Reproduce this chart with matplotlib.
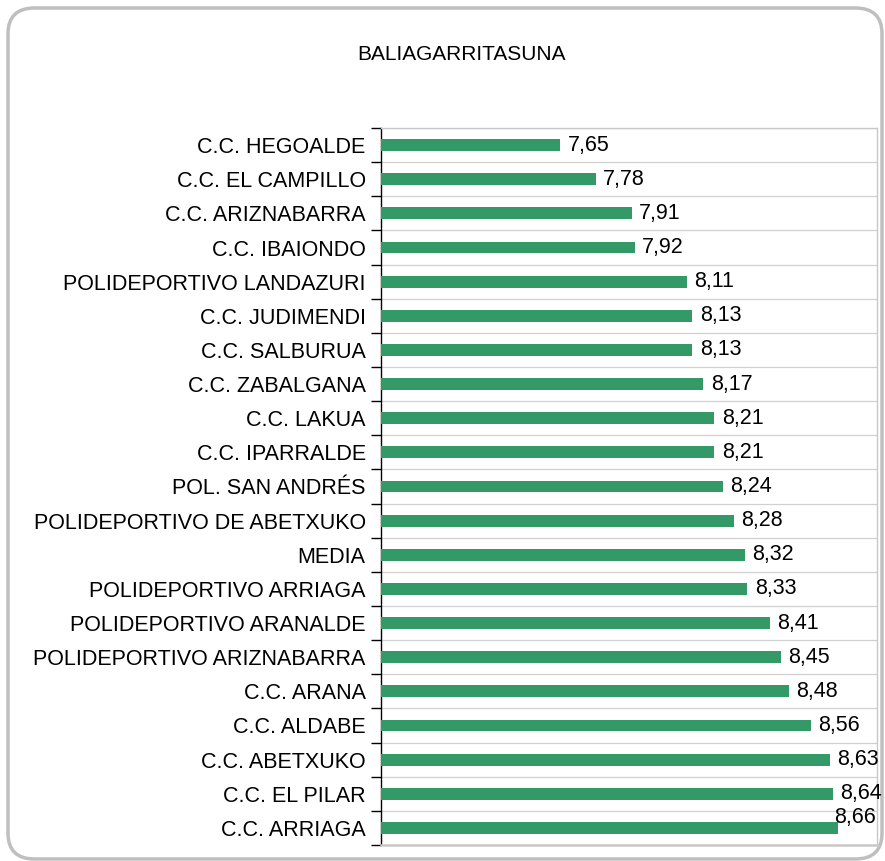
import matplotlib
matplotlib.use("Agg")
import matplotlib.pyplot as plt
from matplotlib.patches import FancyBboxPatch

plt.rcParams['font.family'] = ['Liberation Sans', 'DejaVu Sans']

# Datos (de arriba hacia abajo)
centros = ["C.C. HEGOALDE", "C.C. EL CAMPILLO", "C.C. ARIZNABARRA", "C.C. IBAIONDO",
           "POLIDEPORTIVO LANDAZURI", "C.C. JUDIMENDI", "C.C. SALBURUA", "C.C. ZABALGANA",
           "C.C. LAKUA", "C.C. IPARRALDE", "POL. SAN ANDRÉS", "POLIDEPORTIVO DE ABETXUKO",
           "MEDIA", "POLIDEPORTIVO ARRIAGA", "POLIDEPORTIVO ARANALDE",
           "POLIDEPORTIVO ARIZNABARRA", "C.C. ARANA", "C.C. ALDABE", "C.C. ABETXUKO",
           "C.C. EL PILAR", "C.C. ARRIAGA"]
valores = [7.65, 7.78, 7.91, 7.92, 8.11, 8.13, 8.13, 8.17, 8.21, 8.21, 8.24, 8.28,
           8.32, 8.33, 8.41, 8.45, 8.48, 8.56, 8.63, 8.64, 8.66]
titulo = "BALIAGARRITASUNA"

fig = plt.figure(figsize=(8.85, 8.61), dpi=100)

# Marco redondeado
marco = FancyBboxPatch((8 / 885, 2 / 861), 874 / 885, 851 / 861,
                       boxstyle="round,pad=0,rounding_size=0.03",
                       transform=fig.transFigure, facecolor="none",
                       edgecolor="#BFBFBF", linewidth=2.5, zorder=-1)
fig.patches.append(marco)

ax = fig.add_axes([381 / 885, 1 - 845 / 861, (877 - 381) / 885, (845 - 128) / 861])
ax.set_facecolor("none")

n = len(centros)
pos = list(range(n))
ax.barh(pos, valores, height=0.35, left=0, color="#339966", zorder=3)
ax.set_xlim(7.0, 8.8)
ax.set_ylim(n - 0.5, -0.5)

# Líneas de cuadrícula entre categorías
for b in range(n + 1):
    ax.axhline(b - 0.5, color="#D0D0D0", linewidth=0.9, zorder=1)

ax.set_yticks(pos)
ax.set_yticklabels(centros, fontsize=15.5)
ax.set_yticks([p - 0.5 for p in range(n + 1)], minor=True)
ax.tick_params(axis="y", which="major", length=0, pad=11)
ax.tick_params(axis="y", which="minor", length=7, width=1, color="black")
ax.set_xticks([])

for s in ["top", "right", "bottom"]:
    ax.spines[s].set_color("#C8C8C8")
    ax.spines[s].set_linewidth(1)
ax.spines["bottom"].set_linewidth(1.8)
ax.spines["left"].set_color("black")
ax.spines["left"].set_linewidth(1)

# Etiquetas de valores
for i, v in enumerate(valores):
    txt = f"{v:.2f}".replace(".", ",")
    if i == n - 1:
        ax.text(v - 0.015, i - 0.3, txt, va="center", ha="left", fontsize=15.5)
    else:
        ax.text(v + 0.027, i, txt, va="center", ha="left", fontsize=15.5)

fig.text(461 / 885, 1 - 55 / 861, titulo, ha="center", va="center", fontsize=15)

fig.savefig("out.png", dpi=100)
